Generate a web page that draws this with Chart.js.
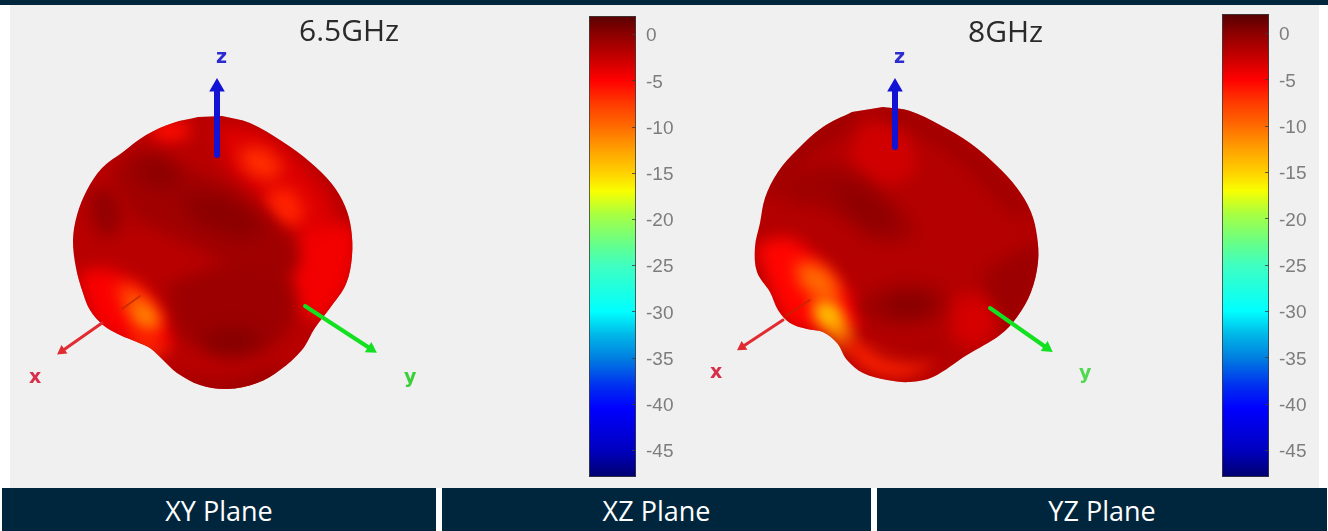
<!DOCTYPE html>
<html>
<head>
<meta charset="utf-8">
<title>Radiation pattern</title>
<script src="https://cdn.jsdelivr.net/npm/chart.js@4"></script>
<style>
    html, body { margin: 0; padding: 0; background: #fff; width: 1328px; height: 531px; overflow: hidden; }
    .abs { position: absolute; }
    #topBar { left: 0; top: 0; width: 1328px; height: 5px; background: #00263e; }
    #plotBg { left: 10px; top: 5px; width: 1309px; height: 483px; background: #f0f0f0; }
    .plane { top: 488px; height: 43px; background: #00263e; color: #fff; font: 27px/45px "Open Sans", sans-serif; text-align: center; }
    .freq { font: 30px/34px "Open Sans", sans-serif; color: #2a2a2a; }
    .axisName { font: bold 19px/20px "DejaVu Sans", sans-serif; filter: blur(0.5px); }
    canvas { position: absolute; filter: blur(0.5px); }
</style>
</head>
<body>
<div class="abs" id="plotBg"></div>
<div class="abs" id="topBar"></div>

<canvas id="patternChart" style="left:0;top:0;width:1328px;height:531px"></canvas>
<canvas id="colorbar65" style="left:589px;top:16px;width:95px;height:461px"></canvas>
<canvas id="colorbar8" style="left:1222px;top:14px;width:95px;height:463px"></canvas>

<div class="abs freq" style="left:299px;top:13px">6.5GHz</div>
<div class="abs freq" style="left:968px;top:14px">8GHz</div>

<div class="abs axisName" style="left:216px;top:46px;color:#2c2cd0">z</div>
<div class="abs axisName" style="left:29px;top:366px;color:#d8304a">x</div>
<div class="abs axisName" style="left:404px;top:366px;color:#38d038">y</div>
<div class="abs axisName" style="left:894px;top:46px;color:#2c2cd0">z</div>
<div class="abs axisName" style="left:710px;top:361px;color:#d8304a">x</div>
<div class="abs axisName" style="left:1079px;top:362px;color:#50d850">y</div>

<div class="abs plane" style="left:2px;width:434px">XY Plane</div>
<div class="abs plane" style="left:442px;width:429px">XZ Plane</div>
<div class="abs plane" style="left:877px;width:450px">YZ Plane</div>

<script>
// 颜色条
const colorbarTicks = [0, -5, -10, -15, -20, -25, -30, -35, -40, -45];
const colorbarRange65 = [-47.9, 1.95];
const colorbarRange8 = [-47.9, 2.05];
const colormapLevels = [1.9, 0, -2.5, -5, -7.5, -10, -12.5, -15, -17, -19.5, -23, -25, -30, -32.5, -35, -38, -40.5, -45, -47.9];
const colormapColors = ['#5a0000', '#8c0000', '#c40000', '#ff0000', '#ff3a00', '#ff6a00', '#ffa000', '#ffd000', '#f8ff00', '#a8ff40', '#60ff90', '#40ffc0', '#00ffff', '#00b8e8', '#0080e0', '#0030f0', '#0000ff', '#0000c0', '#000070'];

// 6.5GHz 方向图轮廓 (x, y)
const outline65 = [[222,116],[250,123],[283,142],[310,162],[332,184],[345,206],[351,228],[352,256],[346,284],[330,308],[315,328],[302,350],[280,370],[257,383],[227,389],[200,385],[177,373],[163,360],[150,348],[137,342],[120,335],[103,325],[90,310],[83,293],[76,268],[73,240],[77,215],[87,190],[102,168],[123,152],[146,135],[173,123],[198,117]];
const level65 = -2;
const patches65 = [
    [[215,125],[262,132],[305,168],[335,215],[320,250],[270,205],[225,165]],
    [[150,122],[185,122],[190,134],[165,142],[152,136]],
    [[238,150],[262,148],[282,168],[268,180],[245,170]],
    [[268,190],[292,190],[304,218],[286,226],[268,208]],
    [[300,235],[350,225],[352,275],[325,318],[298,310],[288,270]],
    [[78,272],[110,270],[150,296],[172,345],[140,345],[100,328],[85,300]],
    [[110,172],[140,150],[180,165],[240,195],[300,255],[270,285],[200,250],[135,220]],
    [[133,165],[158,158],[178,172],[170,188],[145,183]],
    [[180,195],[225,197],[262,228],[240,238],[195,222]],
    [[90,190],[112,190],[122,222],[104,238],[90,215]],
    [[165,285],[240,262],[292,285],[285,335],[235,358],[180,338]],
    [[200,335],[240,328],[262,342],[235,354],[208,350]],
    [[165,372],[225,380],[285,365],[262,395],[200,395]],
    [[116,285],[136,288],[160,320],[150,334],[128,318]],
    [[134,302],[146,306],[157,322],[148,328],[136,316]],
    [[125,334],[150,336],[168,352],[155,354],[135,346]]
];
const patchLevels65 = [-3.6, -5.5, -7, -6.5, -4.5, -4.8, -0.9, -0.1, 0, -0.3, -0.7, 0.2, -0.8, -8.5, -12, -7];
const xCut65 = [[140,296],[122,309]];

// 8GHz 方向图轮廓 (x, y)
const outline8 = [[883,107],[910,111],[940,125],[970,143],[996,165],[1017,188],[1031,212],[1037,236],[1038,262],[1031,292],[1017,317],[1000,335],[967,355],[933,377],[910,382],[887,380],[863,373],[847,360],[837,343],[823,332],[807,329],[790,323],[778,310],[770,292],[757,272],[755,247],[760,223],[765,198],[778,172],[797,150],[823,127],[852,112]];
const level8 = -1.8;
const patches8 = [
    [[860,122],[900,126],[915,170],[880,185],[848,158]],
    [[785,178],[830,165],[875,188],[915,232],[880,242],[830,210],[790,202]],
    [[835,182],[868,192],[895,222],[875,230],[842,205]],
    [[755,245],[790,238],[830,272],[862,318],[835,332],[790,325],[770,290]],
    [[795,262],[825,268],[840,296],[820,300],[800,285]],
    [[812,305],[832,303],[848,326],[850,348],[828,334]],
    [[815,306],[830,307],[838,320],[829,324],[817,316]],
    [[840,332],[862,345],[905,362],[935,362],[905,376],[868,370],[848,352]],
    [[858,298],[905,282],[948,295],[938,318],[895,326],[858,316]],
    [[885,298],[925,296],[930,310],[905,316],[885,310]],
    [[865,344],[905,352],[945,338],[925,354],[885,358]],
    [[985,270],[1040,245],[1036,290],[1010,330],[985,315]],
    [[955,295],[985,298],[998,325],[975,348],[950,335]],
    [[865,110],[905,108],[985,160],[1030,215],[1015,215],[960,160],[905,125]],
    [[765,195],[790,150],[850,108],[860,118],[805,160],[780,200]]
];
const patchLevels8 = [-3, -0.8, -0.2, -5.2, -10, -12.5, -15.5, -6.5, -0.8, 0.2, -1, -0.7, -3.2, -0.8, -0.8];
const xCut8 = [[810,300],[786,316]];

// 坐标轴箭头 (起点, 终点)
const arrowZ65 = [[217,155],[217,87]];
const arrowX65 = [[102,323],[62,351]];
const arrowY65 = [[305,306],[371,349]];
const arrowZ8 = [[895,147],[895,87]];
const arrowX8 = [[783,320],[742,347]];
const arrowY8 = [[990,308],[1047,348]];

function toPoints(list) {
    return list.map(p => ({ x: p[0], y: p[1] }));
}

function hexToRgb(hex) {
    return [1, 3, 5].map(i => parseInt(hex.substr(i, 2), 16));
}

// 按 dB 值取颜色
function levelColor(level) {
    for (let i = 1; i < colormapLevels.length; i++) {
        if (level >= colormapLevels[i]) {
            const t = (level - colormapLevels[i]) / (colormapLevels[i - 1] - colormapLevels[i]);
            const lo = hexToRgb(colormapColors[i]);
            const hi = hexToRgb(colormapColors[i - 1]);
            return `rgb(${lo.map((c, k) => Math.round(c + (hi[k] - c) * t)).join(',')})`;
        }
    }
    return colormapColors[colormapColors.length - 1];
}

function surfaceDataset(points, level, outlineSet, blur) {
    return {
        data: toPoints(points),
        showLine: true,
        fill: false,
        borderWidth: 0,
        pointRadius: 0,
        tension: 0.35,
        surfaceColor: levelColor(level),
        surfaceBlur: blur,
        outlineSet: outlineSet
    };
}

function arrowDataset(points, color, width, headSize) {
    const dx = points[1][0] - points[0][0];
    const dy = points[1][1] - points[0][1];
    return {
        data: toPoints(points),
        showLine: true,
        fill: false,
        borderColor: color,
        borderWidth: width,
        borderCapStyle: 'round',
        pointStyle: 'triangle',
        pointRadius: [0, headSize],
        pointRotation: [0, Math.atan2(dx, -dy) * 180 / Math.PI],
        pointBackgroundColor: color,
        pointBorderColor: color,
        pointBorderWidth: 0
    };
}

function buildPattern(outline, level, patches, levels, cut, arrows) {
    const base = surfaceDataset(outline, level, null, 0);
    const sets = [base];
    patches.forEach((shape, i) => {
        sets.push(surfaceDataset(shape, levels[i], base, 8));
    });
    sets.push(arrowDataset(cut, 'rgba(190,40,0,0.75)', 2, 0));
    sets.push(arrowDataset(arrows[0], '#1212d4', 6, 9));
    sets.push(arrowDataset(arrows[1], '#e02c30', 3, 6));
    sets.push(arrowDataset(arrows[2], '#12e020', 4, 7));
    return sets;
}

// 用轮廓裁剪后再做模糊填充, 模拟曲面的平滑着色
const surfacePlugin = {
    id: 'surfacePaint',
    beforeDatasetDraw(chart, args) {
        const ds = chart.data.datasets[args.index];
        if (!ds.surfaceColor) return;
        const ctx = chart.ctx;
        const area = chart.chartArea;
        const shape = args.meta.dataset;
        shape.updateControlPoints(area, 'x');
        ctx.save();
        if (ds.outlineSet) {
            const outline = chart.getDatasetMeta(chart.data.datasets.indexOf(ds.outlineSet)).dataset;
            outline.updateControlPoints(area, 'x');
            ctx.beginPath();
            outline.path(ctx);
            ctx.closePath();
            ctx.clip();
        }
        if (ds.surfaceBlur) ctx.filter = `blur(${ds.surfaceBlur}px)`;
        ctx.fillStyle = ds.surfaceColor;
        ctx.beginPath();
        shape.path(ctx);
        ctx.closePath();
        ctx.fill();
        ctx.restore();
    }
};

const datasets65 = buildPattern(outline65, level65, patches65, patchLevels65, xCut65, [arrowZ65, arrowX65, arrowY65]);
const datasets8 = buildPattern(outline8, level8, patches8, patchLevels8, xCut8, [arrowZ8, arrowX8, arrowY8]);

new Chart(document.getElementById('patternChart'), {
    type: 'scatter',
    // Chart.js 从最后一个数据集开始画, 所以反转
    data: { datasets: datasets65.concat(datasets8).reverse() },
    options: {
        responsive: false,
        animation: false,
        plugins: { legend: { display: false }, tooltip: { enabled: false } },
        layout: { padding: 0, autoPadding: false },
        scales: {
            x: { type: 'linear', display: false, min: 0, max: 1328 },
            y: { type: 'linear', display: false, min: 0, max: 531, reverse: true }
        }
    },
    plugins: [surfacePlugin]
});

function renderColorbar(canvasId, range) {
    new Chart(document.getElementById(canvasId), {
        type: 'bar',
        data: {
            labels: ['dB'],
            datasets: [{
                data: [range],
                barPercentage: 1,
                categoryPercentage: 1,
                borderWidth: 0,
                backgroundColor(context) {
                    const chart = context.chart;
                    if (!chart.chartArea) return '#ff0000';
                    const y = chart.scales.y;
                    const top = y.getPixelForValue(range[1]);
                    const bottom = y.getPixelForValue(range[0]);
                    const gradient = chart.ctx.createLinearGradient(0, top, 0, bottom);
                    colormapLevels.forEach((level, i) => {
                        const stop = (y.getPixelForValue(level) - top) / (bottom - top);
                        gradient.addColorStop(Math.min(1, Math.max(0, stop)), colormapColors[i]);
                    });
                    return gradient;
                }
            }]
        },
        options: {
            responsive: false,
            animation: false,
            plugins: { legend: { display: false }, tooltip: { enabled: false } },
            layout: { padding: 0, autoPadding: false },
            scales: {
                x: { display: false },
                y: {
                    position: 'right',
                    min: range[0],
                    max: range[1],
                    afterBuildTicks(axis) {
                        axis.ticks = colorbarTicks.map(v => ({ value: v }));
                    },
                    afterFit(axis) {
                        axis.width = 48;
                        axis.paddingTop = 0;
                        axis.paddingBottom = 0;
                    },
                    border: { display: false },
                    grid: { display: false },
                    ticks: {
                        color: '#7d7d7d',
                        padding: 2,
                        labelOffset: 2,
                        font: { family: '"Liberation Sans", Arial, sans-serif', size: 19 },
                        callback: v => String(v)
                    }
                }
            }
        },
        plugins: [{
            id: 'barFrame',
            afterDatasetsDraw(chart) {
                const { ctx, chartArea: a, scales } = chart;
                ctx.save();
                ctx.strokeStyle = 'rgba(60,60,60,0.8)';
                ctx.lineWidth = 1;
                ctx.strokeRect(a.left + 0.5, a.top + 0.5, a.right - a.left - 1, a.bottom - a.top - 1);
                colorbarTicks.forEach(v => {
                    const py = Math.round(scales.y.getPixelForValue(v)) + 0.5;
                    ctx.beginPath();
                    ctx.moveTo(a.right - 4, py);
                    ctx.lineTo(a.right, py);
                    ctx.stroke();
                });
                ctx.restore();
            }
        }]
    });
}

renderColorbar('colorbar65', colorbarRange65);
renderColorbar('colorbar8', colorbarRange8);
</script>
</body>
</html>
